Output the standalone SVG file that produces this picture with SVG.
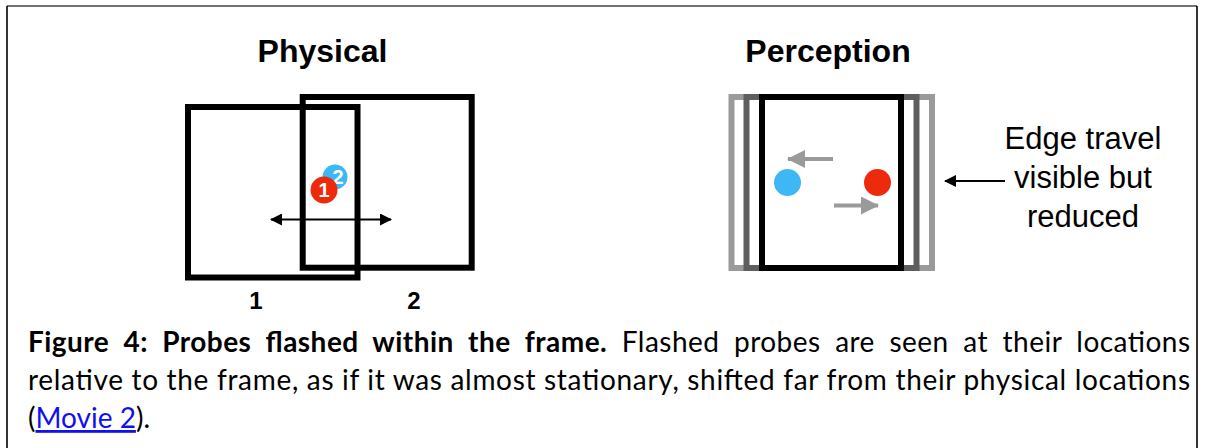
<svg xmlns="http://www.w3.org/2000/svg" width="1205" height="448" viewBox="0 0 1205 448">
  <defs>
    <style>
      .title { font-family: "Liberation Sans", Arial, sans-serif; font-weight: bold; font-size: 32px; fill: #000; text-anchor: middle; }
      .lbl { font-family: "Liberation Sans", Arial, sans-serif; font-weight: bold; font-size: 24px; fill: #000; text-anchor: middle; }
      .note { font-family: "Liberation Sans", Arial, sans-serif; font-size: 31px; fill: #000; text-anchor: middle; }
      .dotnum { font-family: "Liberation Sans", Arial, sans-serif; font-weight: bold; font-size: 20px; fill: #fff; text-anchor: middle; }
      .cap { font-family: Lato, "Liberation Sans", sans-serif; font-size: 28px; fill: #000; }
      .frame { fill: none; stroke: #000; stroke-width: 6; }
      .thin { stroke: #000; stroke-width: 2; fill: none; }
      .grey { stroke: #9a9a9a; stroke-width: 4; fill: none; }
    </style>
    <marker id="headBlack" viewBox="0 0 12 12" refX="11" refY="6" markerWidth="12" markerHeight="12" markerUnits="userSpaceOnUse" orient="auto-start-reverse">
      <path d="M0,0 L12,6 L0,12 Z" fill="#000"/>
    </marker>
    <marker id="headGrey" viewBox="0 0 18 18" refX="17" refY="9" markerWidth="18" markerHeight="18" markerUnits="userSpaceOnUse" orient="auto">
      <path d="M0,0 L18,9 L0,18 Z" fill="#9a9a9a"/>
    </marker>
  </defs>

  <!-- page border -->
  <g id="border">
    <line x1="7" y1="6" x2="1197" y2="6" stroke="#444" stroke-width="1.6"/>
    <line x1="7" y1="6" x2="7" y2="448" stroke="#000" stroke-width="1.6"/>
    <line x1="1197" y1="6" x2="1197" y2="448" stroke="#000" stroke-width="1.6"/>
  </g>

  <!-- left panel: physical frame positions -->
  <g id="physical">
    <text class="title" x="322.5" y="62">Physical</text>
    <rect id="frame1" class="frame" x="188" y="107" width="169.5" height="170.5"/>
    <rect id="frame2" class="frame" x="302.7" y="97" width="169" height="170.7"/>
    <text class="lbl" x="256" y="309">1</text>
    <text class="lbl" x="414" y="309">2</text>
  </g>

  <g id="probe2">
    <circle cx="335" cy="177" r="12.5" fill="#3db8f5"/>
    <text class="dotnum" x="338" y="184">2</text>
  </g>
  <g id="probe1">
    <circle cx="324" cy="190" r="13.5" fill="#ee2a0d"/>
    <text class="dotnum" x="324" y="197">1</text>
  </g>

  <!-- right panel: perceived frame -->
  <g id="perception">
    <text class="title" x="828" y="62">Perception</text>
    <rect x="731.5" y="97" width="200.5" height="171" fill="none" stroke="#9a9a9a" stroke-width="6"/>
    <rect x="746.5" y="97" width="170" height="171" fill="none" stroke="#5e5e5e" stroke-width="6"/>
    <rect class="frame" x="762" y="97" width="139" height="171"/>
    <circle cx="787.5" cy="182.5" r="13.5" fill="#3db8f5"/>
    <circle cx="877.5" cy="182.5" r="13.5" fill="#ee2a0d"/>
  </g>

  <g id="note">
    <text class="note" x="1083" y="149">Edge travel</text>
    <text class="note" x="1083" y="188">visible but</text>
    <text class="note" x="1083" y="227">reduced</text>
  </g>

  <!-- connectors -->
  <g id="connectors">
    <line class="thin" x1="271" y1="219.5" x2="391" y2="219.5" marker-start="url(#headBlack)" marker-end="url(#headBlack)"/>
    <line class="grey" x1="833" y1="159" x2="788" y2="159" marker-end="url(#headGrey)"/>
    <line class="grey" x1="834" y1="205.5" x2="878" y2="205.5" marker-end="url(#headGrey)"/>
    <line class="thin" x1="1005" y1="181" x2="945" y2="181" marker-end="url(#headBlack)"/>
  </g>

  <!-- caption -->
  <g id="caption">
    <text class="cap" x="28" y="352" textLength="1162" lengthAdjust="spacing" style="word-spacing:7px"><tspan font-weight="bold">Figure 4: Probes flashed within the frame.</tspan> Flashed probes are seen at their locations</text>
    <text class="cap" x="28" y="390" textLength="1162" lengthAdjust="spacing">relative to the frame, as if it was almost stationary, shifted far from their physical locations</text>
    <text class="cap" x="28" y="428">(<tspan fill="#1010ee" text-decoration="underline">Movie 2</tspan>).</text>
  </g>
</svg>
